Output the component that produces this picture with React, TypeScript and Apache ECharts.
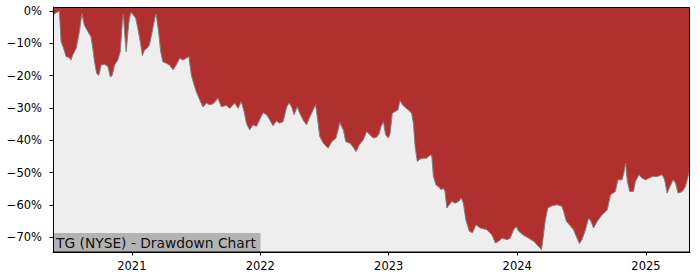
import React, { useEffect, useRef } from "react";
import * as echarts from "echarts";

const dates = [
  "2020-05-22","2020-06-01","2020-06-09","2020-06-14","2020-06-21","2020-06-28","2020-07-08","2020-07-12","2020-07-17","2020-07-27",
  "2020-08-05","2020-08-12","2020-08-19","2020-08-29","2020-09-07","2020-09-12","2020-09-17","2020-09-23","2020-09-29","2020-10-06",
  "2020-10-15","2020-10-25","2020-11-01","2020-11-06","2020-11-13","2020-11-22","2020-11-29","2020-12-05","2020-12-08","2020-12-12",
  "2020-12-16","2020-12-21","2020-12-25","2020-12-30","2021-01-04","2021-01-12","2021-01-18","2021-01-25","2021-01-31","2021-02-06",
  "2021-02-14","2021-02-20","2021-02-28","2021-03-07","2021-03-11","2021-03-18","2021-03-24","2021-03-30","2021-04-09","2021-04-18",
  "2021-04-28","2021-05-07","2021-05-17","2021-05-26","2021-06-05","2021-06-12","2021-06-19","2021-06-27","2021-07-03","2021-07-13",
  "2021-07-22","2021-08-01","2021-08-10","2021-08-20","2021-09-03","2021-09-12","2021-09-27","2021-10-06","2021-10-20","2021-10-30",
  "2021-11-08","2021-11-16","2021-11-23","2021-12-02","2021-12-11","2021-12-21","2021-12-31","2022-01-09","2022-01-19","2022-01-28",
  "2022-02-06","2022-02-16","2022-02-25","2022-03-07","2022-03-17","2022-03-24","2022-03-31","2022-04-07","2022-04-16","2022-04-23",
  "2022-05-03","2022-05-12","2022-05-22","2022-05-31","2022-06-07","2022-06-12","2022-06-19","2022-06-29","2022-07-13","2022-07-23",
  "2022-08-04","2022-08-15","2022-08-25","2022-09-01","2022-09-13","2022-09-22","2022-09-30","2022-10-09","2022-10-21","2022-10-30",
  "2022-11-09","2022-11-18","2022-11-28","2022-12-05","2022-12-10","2022-12-17","2022-12-23","2022-12-31","2023-01-05","2023-01-11",
  "2023-01-19","2023-01-27","2023-02-02","2023-02-09","2023-02-16","2023-02-26","2023-03-07","2023-03-12","2023-03-17","2023-03-23",
  "2023-03-31","2023-04-09","2023-04-19","2023-04-26","2023-05-03","2023-05-08","2023-05-15","2023-05-22","2023-05-30","2023-06-05",
  "2023-06-10","2023-06-15","2023-06-22","2023-06-29","2023-07-09","2023-07-18","2023-07-26","2023-08-01","2023-08-08","2023-08-18",
  "2023-08-27","2023-09-06","2023-09-18","2023-10-07","2023-10-21","2023-10-31","2023-11-09","2023-11-19","2023-12-03","2023-12-12",
  "2023-12-22","2023-12-29","2024-01-05","2024-01-19","2024-02-02","2024-02-17","2024-03-02","2024-03-10","2024-03-14","2024-03-21",
  "2024-03-28","2024-04-09","2024-04-23","2024-05-07","2024-05-12","2024-05-20","2024-05-31","2024-06-09","2024-06-19","2024-06-26",
  "2024-07-03","2024-07-13","2024-07-22","2024-07-29","2024-08-05","2024-08-15","2024-08-29","2024-09-13","2024-09-22","2024-10-06",
  "2024-10-13","2024-10-25","2024-10-30","2024-11-04","2024-11-09","2024-11-16","2024-11-26","2024-12-02","2024-12-12","2024-12-21",
  "2024-12-31","2025-01-09","2025-01-19","2025-02-02","2025-02-16","2025-02-23","2025-03-02","2025-03-10","2025-03-19","2025-03-26",
  "2025-04-02","2025-04-14","2025-04-23","2025-05-03","2025-05-06"
];

const drawdown = [
  -1.3,-0.5,0,-9.5,-11.5,-14.1,-14.5,-15.2,-13.6,-11.5,
  -6.4,-0.8,-4.4,-6.4,-8.0,-11.5,-15.7,-19.3,-19.9,-16.7,
  -16.5,-17.2,-20.4,-20.0,-16.7,-15.2,-12.6,-3.3,-1.1,-7.4,
  -12.6,-6.4,-2.3,-0.4,-1.1,-2.3,-5.4,-9.5,-13.8,-12.1,
  -11.5,-10.5,-6.4,-2.3,-1.0,-6.4,-12.6,-15.7,-16.2,-16.7,
  -18.2,-16.7,-14.6,-15.2,-14.6,-14.1,-19.8,-22.9,-24.9,-27.5,
  -29.7,-28.5,-29.0,-28.7,-27.0,-29.6,-29.2,-30.1,-28.5,-30.1,
  -28.0,-31.1,-34.9,-36.8,-35.2,-35.7,-33.4,-31.5,-32.1,-33.7,
  -35.5,-34.0,-34.7,-34.2,-29.7,-28.4,-29.6,-32.1,-29.6,-31.6,
  -33.7,-35.2,-32.7,-30.6,-29.0,-32.7,-38.8,-40.9,-42.4,-40.4,
  -39.3,-34.5,-36.8,-40.4,-40.9,-42.1,-43.5,-41.4,-39.8,-37.3,
  -38.3,-39.3,-39.0,-37.8,-35.7,-34.2,-38.3,-39.3,-37.8,-31.6,
  -31.1,-30.6,-27.7,-29.0,-29.8,-30.6,-31.6,-34.7,-41.9,-46.5,
  -45.8,-45.5,-45.5,-44.8,-44.5,-51.2,-53.7,-54.3,-55.3,-54.8,
  -55.8,-60.9,-59.9,-58.9,-59.4,-58.9,-57.8,-59.4,-64.5,-68.1,
  -68.5,-66.1,-67.1,-67.6,-69.2,-71.7,-71.2,-70.2,-70.7,-70.2,
  -67.6,-66.6,-68.1,-69.3,-70.2,-71.2,-72.8,-73.8,-70.7,-64.5,
  -60.9,-60.2,-59.9,-60.4,-62.0,-65.1,-66.4,-67.6,-70.2,-71.9,
  -70.7,-67.6,-64.0,-65.1,-67.1,-65.1,-63.0,-61.5,-56.8,-55.8,
  -52.2,-52.2,-50.1,-47.0,-52.7,-55.8,-55.8,-52.7,-50.6,-51.7,
  -52.2,-51.7,-51.2,-51.2,-50.6,-52.2,-56.3,-54.3,-52.2,-53.2,
  -56.3,-55.8,-54.3,-50.1,-49.1
];

const yTicks = [0, -10, -20, -30, -40, -50, -60, -70];
const xTickYears = [2021, 2022, 2023, 2024, 2025];
const chartTitle = "TG (NYSE) - Drawdown Chart";

const FONT = "DejaVu Sans";

function localTs(d: string): number {
  const [y, m, dd] = d.split("-").map(Number);
  return new Date(y, m - 1, dd).getTime();
}

export default function App() {
  const ref = useRef<HTMLDivElement>(null);
  useEffect(() => {
    if (!ref.current) return;
    const chart = echarts.init(ref.current, null, { renderer: "svg" });
    const yearTs = xTickYears.map((y) => new Date(y, 0, 1).getTime());
    const data = dates.map((d, i) => [localTs(d), drawdown[i]]);
    chart.setOption({
      animation: false,
      backgroundColor: "#ffffff",
      textStyle: { fontFamily: FONT },
      grid: {
        left: 53,
        right: 10,
        top: 7,
        bottom: 28,
        show: true,
        backgroundColor: "#eeeeee",
        borderWidth: 0,
      },
      xAxis: {
        type: "value",
        scale: true,
        min: localTs(dates[0]),
        max: localTs(dates[dates.length - 1]),
        axisLine: { show: true, onZero: false, lineStyle: { color: "#000", width: 1 } },
        axisTick: {
          show: true,
          length: 3.5,
          customValues: yearTs,
          lineStyle: { color: "#000", width: 1 },
        },
        axisLabel: {
          customValues: yearTs,
          formatter: (v: number) => String(new Date(v).getFullYear()),
          color: "#000",
          fontSize: 11.5,
          fontFamily: FONT,
          margin: 8,
        },
        splitLine: { show: false },
      },
      yAxis: {
        type: "value",
        min: -74.5,
        max: 1.2,
        axisLine: { show: true, onZero: false, lineStyle: { color: "#000", width: 1 } },
        axisTick: {
          show: true,
          length: 3.5,
          customValues: yTicks,
          lineStyle: { color: "#000", width: 1 },
        },
        axisLabel: {
          customValues: yTicks,
          formatter: (v: number) =>
            (v < 0 ? "\u2212" + Math.abs(v) : String(v)) + "%",
          color: "#000",
          fontSize: 11.5,
          fontFamily: FONT,
          margin: 11,
        },
        splitLine: { show: false },
      },
      series: [
        {
          type: "line",
          data,
          showSymbol: false,
          symbol: "none",
          lineStyle: { color: "#808080", width: 1 },
          areaStyle: { color: "#b03030", opacity: 1, origin: "end" },
          z: 2,
        },
      ],
      graphic: [
        {
          type: "rect",
          z: 50,
          shape: { x: 53.5, y: 233, width: 207, height: 19 },
          style: { fill: "#b3b3b3" },
        },
        {
          type: "text",
          z: 51,
          x: 56,
          y: 242.5,
          style: {
            text: chartTitle,
            fontSize: 13.8,
            fontFamily: FONT,
            fill: "#111111",
            verticalAlign: "middle",
            align: "left",
          },
        },
        {
          type: "rect",
          z: 100,
          shape: { x: 53.5, y: 7.5, width: 636, height: 244.5 },
          style: { fill: "none", stroke: "#000", lineWidth: 1 },
        },
      ],
    });
    return () => chart.dispose();
  }, []);
  return (
    <div
      ref={ref}
      style={{ position: "absolute", left: 0, top: 0, width: 700, height: 280 }}
    />
  );
}
